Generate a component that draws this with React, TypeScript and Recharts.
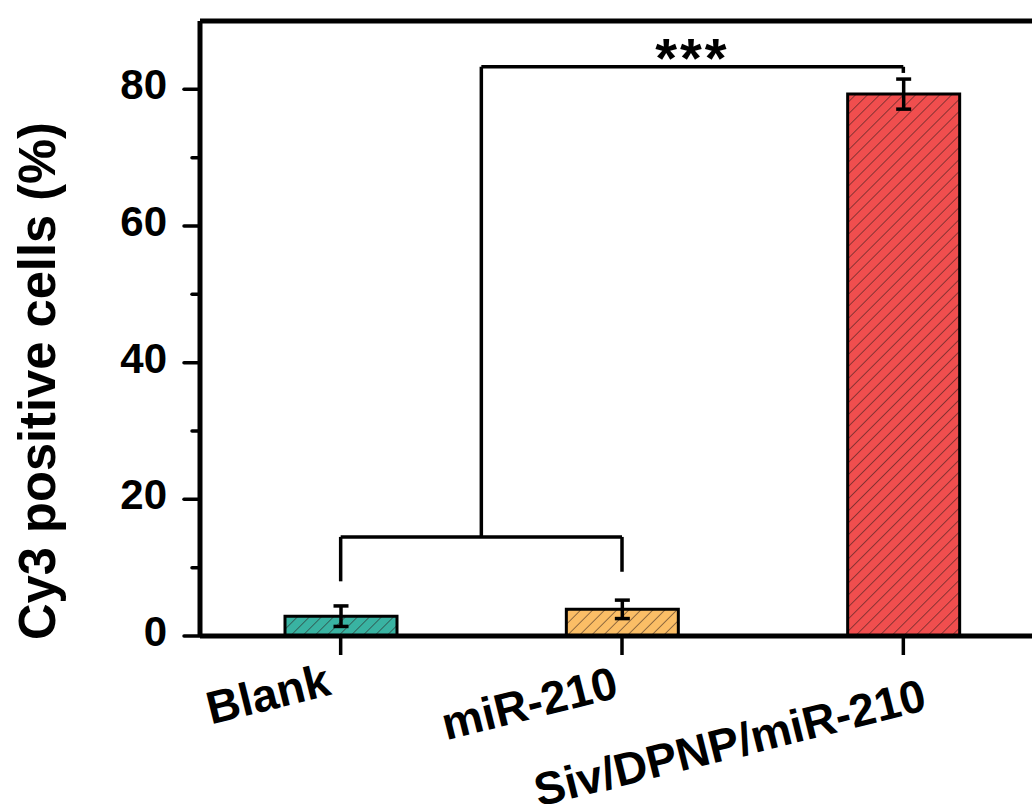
import React from "react";
import {
  BarChart,
  Bar,
  XAxis,
  YAxis,
  ErrorBar,
  Cell,
  ReferenceLine,
  ReferenceDot,
  Label,
} from "recharts";

const categories = ["Blank", "miR-210", "Siv/DPNP/miR-210"];
const meanValues = [2.9, 3.9, 79.3];
const errorValues = [1.5, 1.35, 2.2];
const barColors = ["#39b3a2", "#fbbe66", "#f04e4e"];
const yTicks = [0, 10, 20, 30, 40, 50, 60, 70, 80];
const labeledTicks = [0, 20, 40, 60, 80];

// significance brackets (x = category index on a hidden numeric axis)
const lowBracketY = 14.5;
const lowLegEnds = [8.0, 9.4];
const highBracketY = 83.3;
const highLegEnd = 82.4;
const starsX = 1.25;

const data = categories.map((name, i) => ({
  name,
  idx: i,
  value: meanValues[i],
  err: errorValues[i],
}));

const FONT = '"Liberation Sans", Arial, sans-serif';
const PLOT_W = 844;
const HALF_BAND = PLOT_W / categories.length / 2;

function YTick({ x, y, payload }: any) {
  const major = labeledTicks.includes(payload.value);
  return (
    <g>
      <line
        x1={x - (major ? 16 : 8)}
        x2={x}
        y1={y}
        y2={y}
        stroke="#000"
        strokeWidth={3.5}
        strokeLinecap="round"
      />
      {major && (
        <text
          x={x - 33}
          y={y + 10}
          textAnchor="end"
          fontSize={42}
          fontWeight="bold"
          fontFamily={FONT}
          fill="#000"
        >
          {payload.value}
        </text>
      )}
    </g>
  );
}

// labels are slanted; longer names sit a bit lower and further right
function XTick({ x, y, payload }: any) {
  const n = String(payload.value).length;
  const dx = -2 + (n - 7) * 3;
  const dy = 42 + (n - 7) * 1.4;
  return (
    <g transform={`translate(${x + dx},${y + dy}) rotate(-14)`}>
      <text
        textAnchor="end"
        fontSize={46}
        fontWeight="bold"
        fontFamily={FONT}
        fill="#000"
      >
        {payload.value}
      </text>
    </g>
  );
}

const bracket = { stroke: "#000", strokeWidth: 3.5, xAxisId: "n" };

export default function App() {
  return (
    <div
      style={{
        position: "absolute",
        left: 0,
        top: 0,
        width: 1032,
        height: 804,
        overflow: "hidden",
        background: "#fff",
      }}
    >
      <BarChart
        width={200 + PLOT_W + 16}
        height={804}
        data={data}
        margin={{ top: 21, right: 16, bottom: 18, left: 0 }}
      >
        <defs>
          {barColors.map((c, i) => (
            <pattern
              key={i}
              id={`hatch-${i}`}
              patternUnits="userSpaceOnUse"
              width={8.5}
              height={8.5}
              patternTransform="rotate(45)"
            >
              <rect width={8.5} height={8.5} fill={c} />
              <line x1={0} y1={0} x2={0} y2={8.5} stroke="#2a1a1a" strokeWidth={1.2} strokeOpacity={0.85} />
            </pattern>
          ))}
        </defs>
        <XAxis
          dataKey="name"
          interval={0}
          height={150}
          axisLine={{ stroke: "#000", strokeWidth: 5 }}
          tickLine={{ stroke: "#000", strokeWidth: 3.5 }}
          tickSize={19}
          tickMargin={0}
          tick={<XTick />}
        />
        <XAxis
          xAxisId="n"
          dataKey="idx"
          type="number"
          domain={[0, categories.length - 1]}
          padding={{ left: HALF_BAND, right: HALF_BAND }}
          hide
        />
        <YAxis
          width={200}
          domain={[0, 90]}
          ticks={yTicks}
          interval={0}
          tickSize={0}
          tickMargin={0}
          tickLine={false}
          axisLine={{ stroke: "#000", strokeWidth: 5 }}
          tick={<YTick />}
        >
          <Label
            content={() => (
              <text
                transform="translate(55,381) rotate(-90)"
                textAnchor="middle"
                fontSize={52}
                fontWeight="bold"
                fontFamily={FONT}
                fill="#000"
                textLength={518}
                lengthAdjust="spacingAndGlyphs"
              >
                Cy3 positive cells (%)
              </text>
            )}
          />
        </YAxis>
        <ReferenceLine y={90} stroke="#000" strokeWidth={5} />
        <Bar
          dataKey="value"
          barSize={112}
          stroke="#000"
          strokeWidth={3}
          isAnimationActive={false}
        >
          {data.map((_, i) => (
            <Cell key={i} fill={`url(#hatch-${i})`} />
          ))}
          <ErrorBar
            dataKey="err"
            direction="y"
            width={7.5}
            stroke="#000"
            strokeWidth={3.5}
            isAnimationActive={false}
          />
        </Bar>
        <ReferenceLine {...bracket} segment={[{ x: 0, y: lowBracketY }, { x: 1, y: lowBracketY }]} />
        <ReferenceLine {...bracket} segment={[{ x: 0, y: lowBracketY }, { x: 0, y: lowLegEnds[0] }]} />
        <ReferenceLine {...bracket} segment={[{ x: 1, y: lowBracketY }, { x: 1, y: lowLegEnds[1] }]} />
        <ReferenceLine {...bracket} segment={[{ x: 0.5, y: lowBracketY }, { x: 0.5, y: highBracketY }]} />
        <ReferenceLine {...bracket} segment={[{ x: 0.5, y: highBracketY }, { x: 2, y: highBracketY }]} />
        <ReferenceLine {...bracket} segment={[{ x: 2, y: highBracketY }, { x: 2, y: highLegEnd }]} />
        <ReferenceDot
          xAxisId="n"
          x={starsX}
          y={highBracketY}
          r={0}
          fill="none"
          stroke="none"
          label={{
            content: (p: any) => (
              <text
                x={p.viewBox.x + (p.viewBox.width || 0) / 2}
                y={p.viewBox.y + 10}
                textAnchor="middle"
                fontSize={56}
                fontWeight="bold"
                fontFamily={FONT}
                letterSpacing={3}
                fill="#000"
              >
                ***
              </text>
            ),
          }}
        />
      </BarChart>
    </div>
  );
}
